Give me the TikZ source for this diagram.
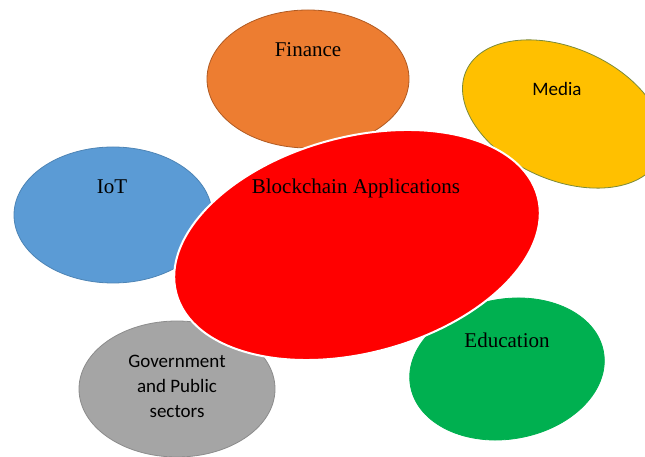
\documentclass[tikz,border=0pt]{standalone}
\usepackage{fontspec}
\setmainfont{Liberation Serif}
\newfontfamily\calibri{Carlito}
\usetikzlibrary{shapes.geometric}
\definecolor{finOrange}{HTML}{ED7D31}
\definecolor{finEdge}{HTML}{B05A22}
\definecolor{mediaYellow}{HTML}{FFC000}
\definecolor{mediaEdge}{HTML}{7A8A3A}
\definecolor{iotBlue}{HTML}{5B9BD5}
\definecolor{govGray}{HTML}{A5A5A5}
\definecolor{eduGreen}{HTML}{00B050}
\tikzset{
  bubble/.style={ellipse, inner sep=0pt, line width=0.8pt},
  serifLabel/.style={font=\fontsize{21}{24}\selectfont},
  sansLabel/.style={font=\calibri\fontsize{19}{25}\selectfont, align=center}
}

\begin{document}
\begin{tikzpicture}[x=1pt, y=1pt]
			\useasboundingbox (0,0) rectangle (645,457);

			% Outer bubbles
			\node[bubble, fill=finOrange, draw=finEdge, minimum width=202pt, minimum height=138pt] (finance) at (308,378) {};
			\node[bubble, fill=mediaYellow, draw=mediaEdge, minimum width=212pt, minimum height=132pt, rotate=-24] (media) at (563,343) {};
			\node[bubble, fill=iotBlue, draw=iotBlue!85!black, minimum width=198pt, minimum height=136pt] (iot) at (113,242) {};
			\node[bubble, fill=govGray, draw=govGray!85!black, minimum width=196pt, minimum height=136pt] (gov) at (177,68) {};
			\node[bubble, fill=eduGreen, draw=eduGreen, minimum width=196pt, minimum height=140pt, rotate=10] (edu) at (507,88) {};

			% Centre bubble on top
			\node[bubble, fill=red, draw=white, line width=2pt, minimum width=374pt, minimum height=216pt, rotate=15] (chain) at (357,212) {};

			% Labels
			\node[serifLabel] (financeText) at (308,407) {Finance};
			\node[sansLabel] (mediaText) at (557,368) {Media};
			\node[serifLabel] (iotText) at (112,270) {IoT};
			\node[serifLabel] (chainText) at (356,269) {Blockchain Applications};
			\node[serifLabel] (eduText) at (507,117) {Education};
			\node[sansLabel] (govText) at (177,71) {Government\\and Public\\sectors};
		\end{tikzpicture}
\end{document}
